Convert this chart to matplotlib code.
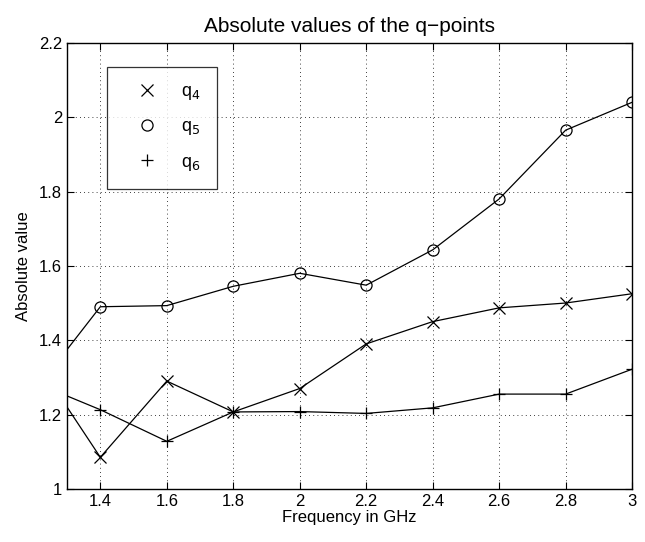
import matplotlib
matplotlib.use('Agg')
import matplotlib.pyplot as plt
from matplotlib.lines import Line2D

freq = [1.3, 1.4, 1.6, 1.8, 2.0, 2.2, 2.4, 2.6, 2.8, 3.0]
q4 = [1.22, 1.085, 1.29, 1.207, 1.27, 1.39, 1.45, 1.487, 1.50, 1.525]
q5 = [1.375, 1.49, 1.493, 1.545, 1.58, 1.548, 1.643, 1.78, 1.965, 2.04]
q6 = [1.25, 1.213, 1.128, 1.207, 1.208, 1.203, 1.218, 1.255, 1.255, 1.322]

xticks = [1.4, 1.6, 1.8, 2, 2.2, 2.4, 2.6, 2.8, 3]
yticks = [1, 1.2, 1.4, 1.6, 1.8, 2, 2.2]
labels = [r'q$_4$', r'q$_5$', r'q$_6$']
markers = ['x', 'o', '+']

plt.rcParams['font.family'] = ['Liberation Sans', 'DejaVu Sans']

fig = plt.figure(figsize=(6.45, 5.42), dpi=100)
ax = fig.add_axes([0.104, 0.098, 0.876, 0.823])

lw = 0.9
for series, m in zip([q4, q5, q6], markers):
    ax.plot(freq, series, color='k', lw=lw, marker=m,
            ms=9 if m == '+' else 8, mfc='none', mew=0.9,
            markevery=slice(1, None))

ax.set_xlim(1.3, 3)
ax.set_ylim(1, 2.2)
ax.set_xticks(xticks)
ax.set_xticklabels([f'{t:g}' for t in xticks])
ax.set_yticks(yticks)
ax.set_yticklabels([f'{t:g}' for t in yticks])
ax.tick_params(direction='in', length=5, labelsize=12, top=True, right=True,
               labeltop=False, labelright=False, width=0.8)
ax.grid(True, color='k', linestyle=(0, (1, 4)), linewidth=0.6)
for s in ax.spines.values():
    s.set_linewidth(1.0)

ax.set_title('Absolute values of the q\u2212points', fontsize=15, pad=8)
ax.set_xlabel('Frequency in GHz', fontsize=12, labelpad=1)
ax.set_ylabel('Absolute value', fontsize=12, labelpad=6)

handles = [Line2D([], [], color='k', linestyle='none', marker=m,
                  ms=9 if m == '+' else 8, mfc='none', mew=0.9)
           for m in markers]
leg = ax.legend(handles, labels, loc='upper left',
                bbox_to_anchor=(0.071, 0.946), fontsize=13,
                frameon=True, fancybox=False, edgecolor='k', borderpad=0.9,
                handlelength=2.6, handletextpad=0.6, labelspacing=0.9,
                borderaxespad=0)
leg.get_frame().set_linewidth(0.9)

fig.savefig('out.png', dpi=100)
